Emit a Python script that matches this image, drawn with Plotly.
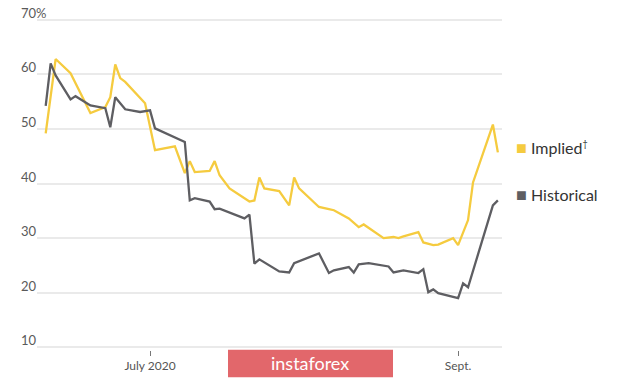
import plotly.graph_objects as go

# ---- data ----
implied_dates = [
    "2020-06-10", "2020-06-12", "2020-06-15", "2020-06-17", "2020-06-19",
    "2020-06-22", "2020-06-23", "2020-06-24", "2020-06-25", "2020-06-26",
    "2020-06-29", "2020-06-30", "2020-07-02", "2020-07-06", "2020-07-08",
    "2020-07-09", "2020-07-10", "2020-07-13", "2020-07-14", "2020-07-15",
    "2020-07-17", "2020-07-21", "2020-07-22", "2020-07-23", "2020-07-24",
    "2020-07-27", "2020-07-29", "2020-07-30", "2020-07-31", "2020-08-04",
    "2020-08-06", "2020-08-07", "2020-08-10", "2020-08-12", "2020-08-13",
    "2020-08-17", "2020-08-19", "2020-08-20", "2020-08-21", "2020-08-24",
    "2020-08-25", "2020-08-27", "2020-08-28", "2020-08-31", "2020-09-01",
    "2020-09-03", "2020-09-04", "2020-09-08", "2020-09-09",
]
implied_values = [
    49.2, 62.8, 60.2, 56.5, 52.9,
    54.0, 55.8, 61.8, 59.3, 58.6,
    55.8, 54.7, 46.1, 46.8, 41.9,
    44.1, 42.1, 42.3, 44.1, 41.5,
    39.1, 36.7, 36.9, 41.1, 39.1,
    38.6, 36.0, 41.1, 39.1, 35.7,
    35.3, 35.1, 33.6, 32.0, 32.5,
    30.0, 30.2, 30.0, 30.3, 31.1,
    29.2, 28.7, 28.8, 30.0, 28.7,
    33.3, 40.2, 50.8, 45.7,
]

historical_dates = [
    "2020-06-10", "2020-06-11", "2020-06-12", "2020-06-15", "2020-06-16",
    "2020-06-18", "2020-06-19", "2020-06-22", "2020-06-23", "2020-06-24",
    "2020-06-26", "2020-06-29", "2020-07-01", "2020-07-02", "2020-07-08",
    "2020-07-09", "2020-07-10", "2020-07-13", "2020-07-14", "2020-07-15",
    "2020-07-20", "2020-07-21", "2020-07-22", "2020-07-23", "2020-07-27",
    "2020-07-29", "2020-07-30", "2020-08-04", "2020-08-06", "2020-08-07",
    "2020-08-10", "2020-08-11", "2020-08-12", "2020-08-14", "2020-08-18",
    "2020-08-19", "2020-08-21", "2020-08-24", "2020-08-25", "2020-08-26",
    "2020-08-27", "2020-08-28", "2020-08-31", "2020-09-01", "2020-09-02",
    "2020-09-03", "2020-09-08", "2020-09-09",
]
historical_values = [
    54.2, 62.0, 59.8, 55.4, 56.0,
    54.9, 54.3, 53.8, 50.3, 55.8,
    53.6, 53.1, 53.4, 50.1, 47.6,
    36.9, 37.3, 36.7, 35.3, 35.4,
    33.6, 34.3, 25.3, 26.1, 23.9,
    23.7, 25.4, 27.2, 23.6, 24.1,
    24.7, 23.7, 25.2, 25.4, 24.8,
    23.7, 24.1, 23.6, 24.3, 20.1,
    20.6, 19.9, 19.2, 19.0, 21.7,
    21.0, 36.0, 36.9,
]

series_names = ['Implied<sup><span style="font-size:9px">†</span></sup>', "Historical"]
series_colors = ["#F5CB3F", "#5E5E62"]

y_tickvals = [10, 20, 30, 40, 50, 60, 70]
y_ticktext = ["10", "20", "30", "40", "50", "60", "70%"]

x_tickvals = ["2020-07-01", "2020-09-01"]
x_ticktext = ["July 2020", "Sept."]

watermark_text = "instaforex"

FONT = "Lato"

fig = go.Figure()
fig.add_trace(go.Scatter(x=implied_dates, y=implied_values, mode="lines",
                         line=dict(color=series_colors[0], width=2.3),
                         showlegend=False, hoverinfo="skip"))
fig.add_trace(go.Scatter(x=historical_dates, y=historical_values, mode="lines",
                         line=dict(color=series_colors[1], width=2.3),
                         showlegend=False, hoverinfo="skip"))

# y tick labels, left aligned above grid lines
for v, t in zip(y_tickvals, y_ticktext):
    fig.add_annotation(x=-0.0387, xref="paper", y=v, yref="y", text=t,
                       showarrow=False, xanchor="left", yanchor="middle",
                       yshift=7, font=dict(family=FONT, size=13, color="#5a5a5a"))

# legend
legend_y = [46.6, 38.0]
for name, col, ly in zip(series_names, series_colors, legend_y):
    fig.add_annotation(x=1.025, xref="paper", y=ly, yref="y",
                       text=f'<span style="color:{col};font-size:18px">■</span> {name}',
                       showarrow=False, xanchor="left", yanchor="middle",
                       font=dict(family=FONT, size=16, color="#333333"))

# watermark
fig.add_shape(type="rect", xref="paper", yref="paper",
              x0=(228 - 37) / 465, x1=(393 - 37) / 465,
              y0=-(377 - 349.7) / 333, y1=-(349.5 - 349.7) / 333,
              fillcolor="#E2676B", line=dict(width=0), layer="above")
fig.add_annotation(x=(310 - 37) / 465, xref="paper", y=-(363 - 349.7) / 333,
                   yref="paper", text=watermark_text, showarrow=False,
                   xanchor="center", yanchor="middle",
                   font=dict(family=FONT, size=18, color="white"))

fig.update_layout(
    width=620, height=378,
    margin=dict(l=37, r=118, t=17, b=28, autoexpand=False),
    paper_bgcolor="white", plot_bgcolor="white",
    showlegend=False,
    xaxis=dict(type="date",
               range=["2020-06-08 06:00", "2020-09-09 20:00"],
               tickvals=x_tickvals, ticktext=x_ticktext,
               ticks="outside", ticklen=5, tickwidth=1, tickcolor="#777777",
               showgrid=False, showline=False, zeroline=False, automargin=False,
               tickfont=dict(family=FONT, size=12, color="#555555")),
    yaxis=dict(range=[9.5, 70.5], tickvals=y_tickvals, showticklabels=False,
               showgrid=True, gridcolor="#EAEAEA", gridwidth=1.5, automargin=False,
               zeroline=False, showline=False, ticks=""),
)

fig.write_html("out.html", config={"displayModeBar": False},
               post_script="document.body.style.margin='0';document.body.style.padding='0';")
